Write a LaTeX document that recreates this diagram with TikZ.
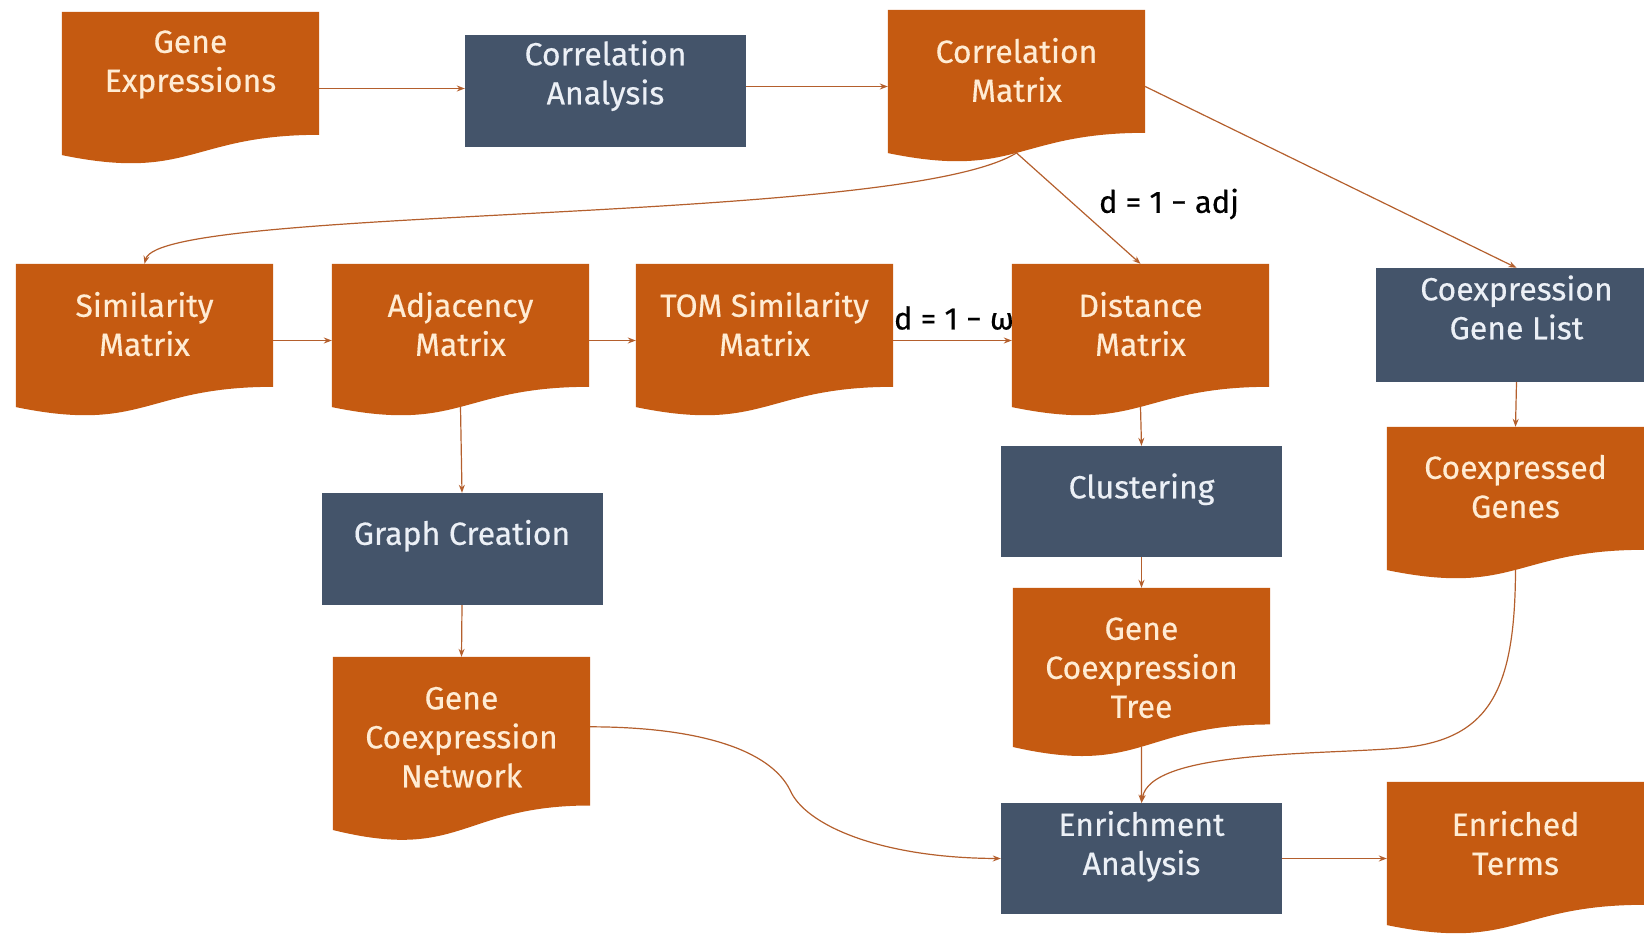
\documentclass[tikz,border=0pt]{standalone}
\usepackage{fontspec}
\setmainfont{Fira Sans}[FakeBold=0.4]
\usetikzlibrary{arrows.meta,calc,backgrounds}
\definecolor{docor}{RGB}{197,90,17}
\definecolor{procbl}{RGB}{68,84,106}
\definecolor{lnc}{RGB}{180,95,45}
\definecolor{txo}{RGB}{255,236,212}
\definecolor{txb}{RGB}{236,240,246}
\newcommand\lt[2]{\raisebox{#1pt}[\height][\depth]{\begin{tabular}{@{}c@{}}#2\end{tabular}}}
\begin{document}
\begin{tikzpicture}[x=1pt,y=-1pt,
 docbox/.style={minimum width=257pt,minimum height=153pt,inner sep=0pt,text=txo,font=\fontsize{32}{39}\selectfont},
 procbox/.style={fill=procbl,minimum width=281pt,minimum height=112pt,inner sep=0pt,text=txb,font=\fontsize{32}{39}\selectfont},
 conn/.style={draw=lnc,line width=1.2pt,-{Stealth[length=8pt,width=6pt]}},
 lbl/.style={font=\fontsize{31}{37}\selectfont,text=black,inner sep=0pt}]
\useasboundingbox (0,0) rectangle (1644,934);
\clip (0,0) rectangle (1644,934);
% row 1
\node[docbox] (ge) at (190.5,88.5) {\lt{24}{Gene\\Expressions}};
\node[procbox] (ca) at (605.5,91) {\lt{14}{Correlation\\Analysis}};
\node[docbox] (cm) at (1016.5,86.5) {\lt{12}{Correlation\\Matrix}};
% row 2
\node[docbox] (sm) at (144.5,340.5) {\lt{12}{Similarity\\Matrix}};
\node[docbox] (am) at (460.5,340.5) {\lt{12}{Adjacency\\Matrix}};
\node[docbox] (tom) at (764.5,340.5) {\lt{12}{TOM Similarity\\Matrix}};
\node[docbox] (dm) at (1140.5,340.5) {\lt{12}{Distance\\Matrix}};
\node[procbox,minimum height=114pt] (cgl) at (1516.5,325) {\lt{13}{Coexpression\\Gene List}};
% row 3
\node[procbox] (gc) at (462,549) {\lt{12}{Graph Creation}};
\node[procbox,minimum height=111pt] (cl) at (1141.5,501.5) {\lt{11}{Clustering}};
\node[docbox] (ceg) at (1515.5,503.5) {\lt{13}{Coexpressed\\Genes}};
% row 4
\node[docbox,minimum height=185pt] (gcn) at (461.5,749.5) {\lt{9}{Gene\\Coexpression\\Network}};
\node[docbox,minimum height=170pt] (gct) at (1141.5,673) {\lt{2}{Gene\\Coexpression\\Tree}};
\node[procbox,minimum height=111pt] (ea) at (1141.5,858.5) {\lt{11}{Enrichment\\Analysis}};
\node[docbox] (et) at (1515.5,858.5) {\lt{11}{Enriched\\Terms}};
% labels
\node[lbl] (lb1) at (1169,204) {d = 1 − adj};
\node[lbl] (lb2) at (954,318) {d = 1 − ω};
% document shapes
\begin{pgfonlayer}{background}
\foreach \n in {ge,cm,sm,am,tom,dm,ceg,gcn,gct,et}{
 \fill[docor] (\n.north west) -- (\n.north east) -- ($(\n.north east)!0.802!(\n.south east)$)
   .. controls ($(\n.north)!0.802!(\n.south)$) and ($(\n.north)!1.107!(\n.south)$) ..
   ($(\n.north west)!0.934!(\n.south west)$) -- cycle;
}
\end{pgfonlayer}
% connectors
\draw[conn] (ge.east) -- (ge.east -| ca.west);
\draw[conn] (cm.west -| ca.east) -- (cm.west);
\draw[conn] ($(cm.north)!0.933!(cm.south)$) .. controls (900,225) and (160,205) .. (sm.north);
\draw[conn] ($(cm.north)!0.933!(cm.south)$) -- (dm.north);
\draw[conn] (cm.east) -- (cgl.north);
\draw[conn] (sm.east) -- (am.west);
\draw[conn] (am.east) -- (tom.west);
\draw[conn] (tom.east) -- (dm.west);
\draw[conn] ($(am.north)!0.933!(am.south)$) -- (gc.north);
\draw[conn] (gc.south) -- (gcn.north);
\draw[conn] ($(dm.north)!0.933!(dm.south)$) -- (cl.north);
\draw[conn] (cl.south) -- (gct.north);
\draw[conn] ($(gct.north)!0.933!(gct.south)$) -- (ea.north);
\draw[conn] (cgl.south) -- (ceg.north);
\draw[conn] ($(ceg.north)!0.933!(ceg.south)$) .. controls (1515,690) and (1490,740) .. (1400,748)
   .. controls (1320,755) and (1150,750) .. (ea.north);
\draw[conn] ($(gcn.north east)+(0,70)$) .. controls (700,727) and (770,750) .. (790,790)
   .. controls (805,825) and (880,858) .. (ea.west);
\draw[conn] (ea.east) -- (et.west);
\end{tikzpicture}
\end{document}
